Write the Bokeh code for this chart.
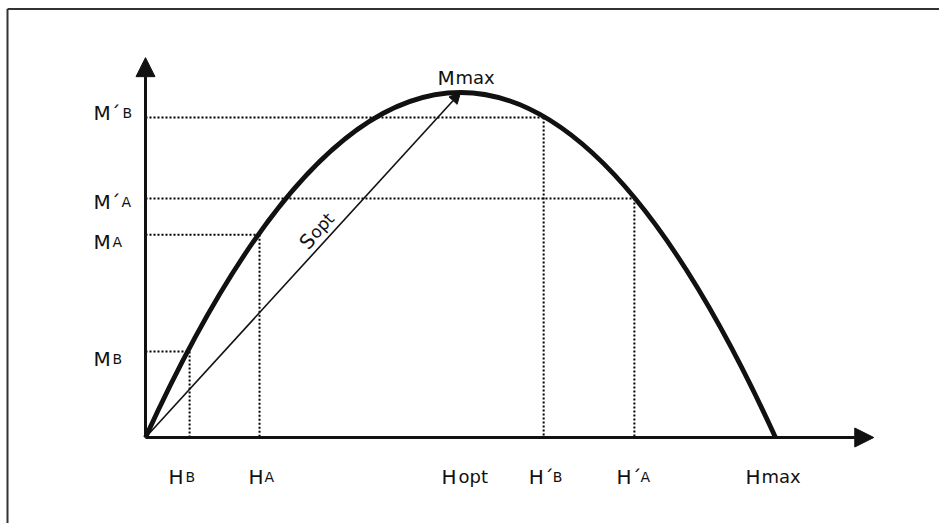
from bokeh.plotting import figure
from bokeh.models import Range1d, ColumnDataSource, Arrow, NormalHead
from bokeh.core.properties import value
from bokeh.embed import file_html
from bokeh.resources import INLINE

# ---------------- data ----------------
h_names = ["HB", "HA", "Hopt", "H´B", "H´A", "Hmax"]
h_values = [0.07, 0.181, 0.5, 0.632, 0.776, 1.0]
m_names = ["MB", "MA", "M´A", "M´B", "Mmax"]
m_values = [0.249, 0.588, 0.693, 0.9275, 1.0]
# dotted guides: (H, M) pairs on the curve
guide_h = [0.07, 0.181, 0.776, 0.632]
guide_m = [0.249, 0.588, 0.693, 0.9275]
h_axis_end = 1.156
m_axis_end = 1.101
Hopt, Hmax, Mmax = 0.5, 1.0, 1.0

# ---------------- layout ----------------
W, Hh = 939, 523
ox, oy = 145, 437          # origin in canvas pixels
sx, sy = 630.0, 345.0      # pixels per unit
x_range = Range1d(-ox / sx, (W - ox) / sx)
y_range = Range1d(-(Hh - oy) / sy, oy / sy)

INK = "#111111"
FONT = value("DejaVu Sans")

p = figure(width=W, height=Hh, x_range=x_range, y_range=y_range,
           x_axis_type=None, y_axis_type=None, toolbar_location=None,
           output_backend="svg", min_border=0, outline_line_color=None,
           background_fill_color="white", border_fill_color="white")
p.grid.visible = False

# enclosing box (top and left edges visible)
px_x = (x_range.end - x_range.start) / W
px_y = (y_range.end - y_range.start) / Hh
fx = x_range.start + 7.0 * px_x
fy = y_range.end - 8.5 * px_y
p.segment(x0=[fx, fx], y0=[fy, fy], x1=[fx, x_range.end], y1=[y_range.start, fy],
          line_color="#333333", line_width=2)

# dotted guides
p.segment(x0=[0] * len(guide_m), y0=guide_m, x1=guide_h, y1=guide_m,
          line_color="#000000", line_width=2, line_dash="2 2")
p.segment(x0=guide_h, y0=guide_m, x1=guide_h, y1=[0] * len(guide_h),
          line_color="#000000", line_width=2, line_dash="2 2")

# parabola M(H) as a quadratic Bezier (apex at Hopt, Mmax)
p.quadratic(x0=[0], y0=[0], x1=[Hmax], y1=[0], cx=[Hopt], cy=[2 * Mmax],
            line_color=INK, line_width=4.8)

# axes with arrow heads
p.add_layout(Arrow(end=NormalHead(size=19, fill_color=INK, line_color=INK),
                   x_start=0, y_start=0, x_end=h_axis_end, y_end=0,
                   line_color=INK, line_width=3))
p.add_layout(Arrow(end=NormalHead(size=19, fill_color=INK, line_color=INK),
                   x_start=0, y_start=0, x_end=0, y_end=m_axis_end,
                   line_color=INK, line_width=3))
# S_opt arrow from the origin to the apex
p.add_layout(Arrow(end=NormalHead(size=11, fill_color=INK, line_color=INK),
                   x_start=0, y_start=0, x_end=Hopt, y_end=Mmax,
                   line_color=INK, line_width=1.6))

# ---------------- labels ----------------
# pieces: (text, size, dx, dy) relative to the anchor, baseline aligned
h_pieces = {
    "HB":   [("H", 20, -21, 39), ("B", 14, -4, 39)],
    "HA":   [("H", 20, -11, 39), ("A", 14, 5, 39)],
    "Hopt": [("H", 20, -19, 39), ("opt", 18, -2, 39)],
    "H´B":  [("H", 20, -15, 39), ("´", 20, 0, 39), ("B", 14, 9, 39)],
    "H´A":  [("H", 20, -18, 39), ("´", 20, -3, 39), ("A", 14, 6, 39)],
    "Hmax": [("H", 20, -30, 39), ("max", 18, -14, 39)],
}
m_pieces = {
    "MB":   [("M", 20, -52, 7), ("B", 14, -33, 7)],
    "MA":   [("M", 20, -52, 7), ("A", 14, -33, 7)],
    "M´A":  [("M", 20, -52, 4), ("´", 20, -35, 4), ("A", 14, -24, 4)],
    "M´B":  [("M", 20, -52, -5), ("´", 20, -35, -5), ("B", 14, -23, -5)],
    "Mmax": [("M", 20, -23, -15), ("max", 18, -5, -15)],
}

groups = {}
def add(x, y, pieces):
    for t, s, dx, dy in pieces:
        g = groups.setdefault(s, dict(x=[], y=[], text=[], dx=[], dy=[]))
        g["x"].append(x); g["y"].append(y); g["text"].append(t)
        g["dx"].append(dx); g["dy"].append(dy)

for name, hv in zip(h_names, h_values):
    add(hv, 0, h_pieces[name])
for name, mv in zip(m_names, m_values):
    add(Hopt if name == "Mmax" else 0, mv, m_pieces[name])

for s, g in groups.items():
    p.text(x="x", y="y", text="text", x_offset="dx", y_offset="dy",
           source=ColumnDataSource(g), text_font=FONT,
           text_font_size=f"{s}px", text_color=INK,
           text_align="left", text_baseline="alphabetic")

# S_opt label along the arrow
ang = 0.83
p.text(x=[Hopt / 2], y=[Mmax / 2], text=["S"], x_offset=[0], y_offset=[-19],
       angle=ang, text_font=FONT, text_font_size="20px", text_color=INK,
       text_align="left", text_baseline="alphabetic")
p.text(x=[Hopt / 2], y=[Mmax / 2], text=["opt"], x_offset=[9], y_offset=[-29],
       angle=ang, text_font=FONT, text_font_size="17px", text_color=INK,
       text_align="left", text_baseline="alphabetic")

open("out.html", "w").write(file_html(p, INLINE))
